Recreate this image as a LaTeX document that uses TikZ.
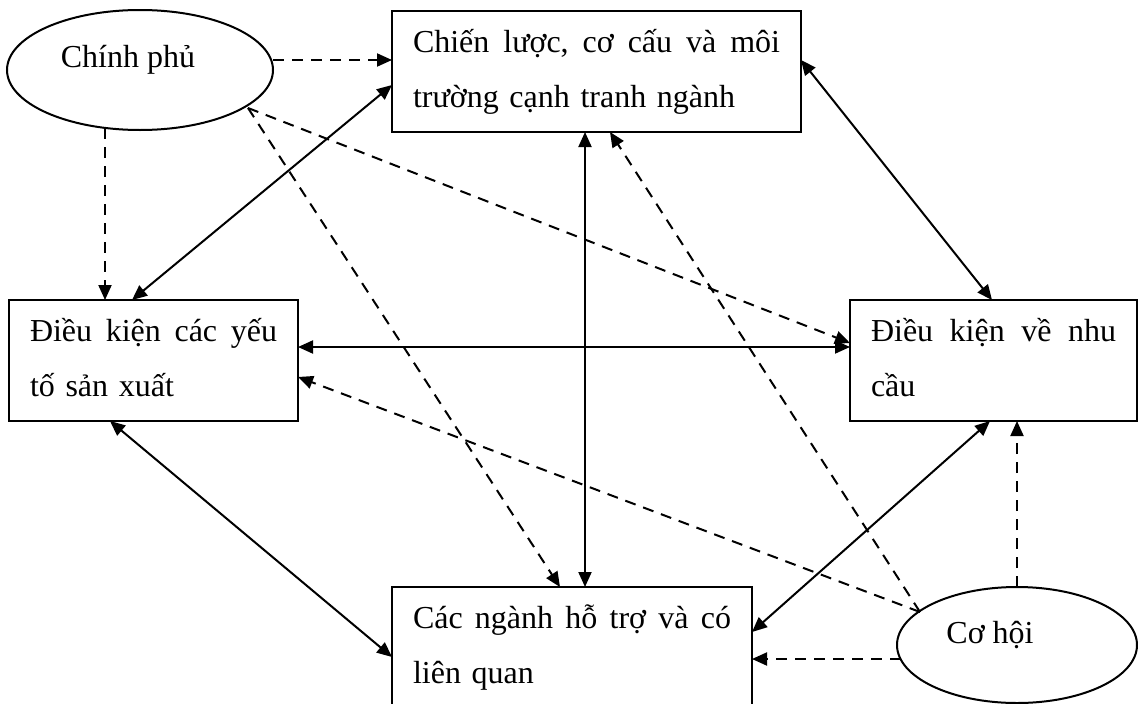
\documentclass[tikz,border=0pt]{standalone}
\usepackage{fontspec}
\setmainfont{Liberation Serif}
\usetikzlibrary{arrows.meta,shapes.geometric}
\begin{document}
\begin{tikzpicture}[x=1pt,y=-1pt,
  box/.style={draw, line width=2pt, rectangle, anchor=north west, inner xsep=21pt, inner ysep=0pt, outer sep=0pt, align=left, font=\fontsize{32}{55}\selectfont},
  oval/.style={draw, ellipse, line width=2pt, inner sep=0pt, outer sep=0pt, font=\fontsize{32}{38}\selectfont},
  solidarrow/.style={line width=2pt, {Triangle[length=15pt,width=13pt]}-{Triangle[length=15pt,width=13pt]}},
  dasharrow/.style={line width=2pt, dash pattern=on 11pt off 8pt, -{Triangle[length=15pt,width=13pt]}}
]
\useasboundingbox (0,0) rectangle (1138,704);

\node[box, text width=367pt] (strat) at (392,11)
  {\rule{0pt}{41pt}Chiến\hfill lược,\hfill cơ\hfill cấu\hfill và\hfill môi\\trường cạnh tranh ngành\rule[-25pt]{0pt}{0pt}};
\node[box, text width=247pt] (factor) at (9,300)
  {\rule{0pt}{41pt}Điều\hfill kiện\hfill các\hfill yếu\\tố sản xuất\rule[-25pt]{0pt}{0pt}};
\node[box, text width=245pt] (demand) at (850,300)
  {\rule{0pt}{41pt}Điều\hfill kiện\hfill về\hfill nhu\\cầu\rule[-25pt]{0pt}{0pt}};
\node[box, text width=318pt] (related) at (392,587)
  {\rule{0pt}{41pt}Các\hfill ngành\hfill hỗ\hfill trợ\hfill và\hfill có\\liên quan\rule[-25pt]{0pt}{0pt}};
\node[oval, minimum width=266pt, minimum height=120pt, text height=22pt, text depth=28pt] (cp) at (140,70) {Chính phủ\hspace*{24pt}};
\node[oval, minimum width=240pt, minimum height=116pt, text height=22pt, text depth=26pt] (ch) at (1017,645) {Cơ hội\hspace*{54pt}};

\draw[dasharrow] ([yshift=10pt]cp.east) -- ([yshift=11.5pt]strat.west);
\draw[dasharrow] ([xshift=-35pt,yshift=2pt]cp.south) -- ([xshift=-48.5pt]factor.north);
\draw[solidarrow] ([xshift=-21.5pt]factor.north) -- ([yshift=-13.5pt]strat.west);
\draw[dasharrow] ([xshift=108pt,yshift=-38pt]cp.center) -- ([yshift=17.5pt]demand.west);
\draw[dasharrow] ([xshift=108pt,yshift=-38pt]cp.center) -- ([xshift=-12pt]related.north);
\draw[solidarrow] ([xshift=-11.5pt]strat.south) -- ([xshift=13pt]related.north);
\draw[dasharrow] ([xshift=-97pt,yshift=33pt]ch.center) -- ([xshift=13.5pt]strat.south);
\draw[dasharrow] ([xshift=-97pt,yshift=33pt]ch.center) -- ([yshift=-16.5pt]factor.east);
\draw[solidarrow] ([yshift=11.5pt]strat.east) -- ([xshift=-1.5pt]demand.north);
\draw[solidarrow] ([yshift=13.5pt]factor.east) -- ([yshift=13.5pt]demand.west);
\draw[solidarrow] ([xshift=-43.5pt]factor.south) -- ([yshift=-9.5pt]related.west);
\draw[solidarrow] ([xshift=-3.5pt]demand.south) -- ([yshift=15.5pt]related.east);
\draw[dasharrow] (ch.north) -- ([xshift=23.5pt]demand.south);
\draw[dasharrow] ([xshift=3.5pt,yshift=-14pt]ch.west) -- ([yshift=-11.5pt]related.east);
\end{tikzpicture}
\end{document}
